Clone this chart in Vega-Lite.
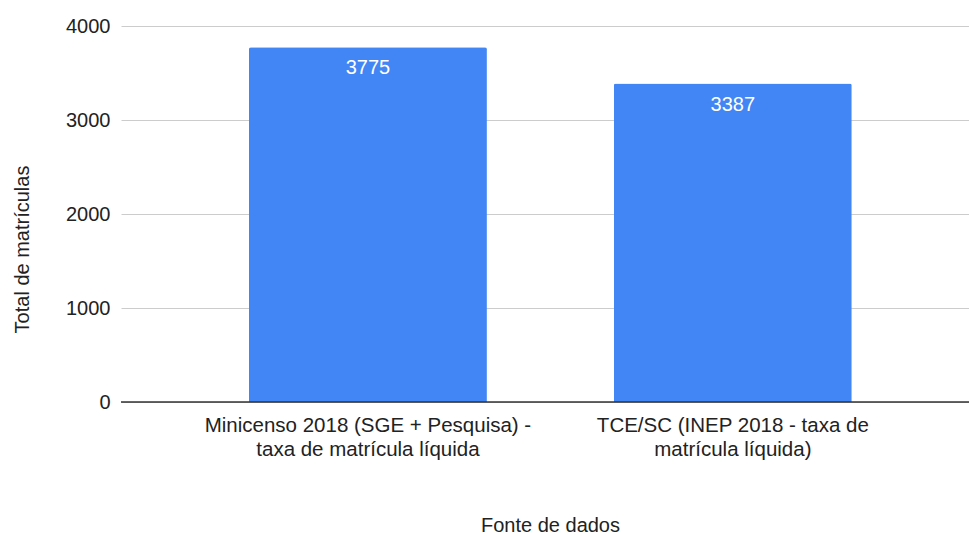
{
  "$schema": "https://vega.github.io/schema/vega-lite/v6.json",
  "autosize": "none",
  "width": 848,
  "height": 376,
  "padding": {"left": 121, "top": 26, "right": 0, "bottom": 134},
  "background": "#ffffff",
  "config": {
    "view": {"stroke": null},
    "font": "Liberation Sans"
  },
  "data": {
    "values": [
      {"fonte": "Minicenso 2018 (SGE + Pesquisa) - taxa de matrícula líquida", "total": 3775},
      {"fonte": "TCE/SC (INEP 2018 - taxa de matrícula líquida)", "total": 3387}
    ]
  },
  "encoding": {
    "x": {
      "field": "fonte",
      "type": "nominal",
      "sort": null,
      "title": "Fonte de dados",
      "scale": {"paddingInner": 0.348, "paddingOuter": 0.336, "align": 0.522},
      "axis": {
        "labelAngle": 0,
        "labelFont": "Liberation Sans",
        "labelFontSize": 20.5,
        "labelColor": "#222222",
        "labelLineHeight": 24,
        "labelPadding": 13,
        "labelLimit": 400,
        "labelExpr": "datum.value == 'Minicenso 2018 (SGE + Pesquisa) - taxa de matrícula líquida' ? ['Minicenso 2018 (SGE + Pesquisa) -', 'taxa de matrícula líquida'] : ['TCE/SC (INEP 2018 - taxa de', 'matrícula líquida)']",
        "ticks": false,
        "domain": false,
        "titleFont": "Liberation Sans",
        "titleFontSize": 20,
        "titleFontWeight": "normal",
        "titleColor": "#222222",
        "titlePadding": 56,
        "titleX": 429
      }
    },
    "y": {
      "field": "total",
      "type": "quantitative",
      "title": "Total de matrículas",
      "scale": {"domain": [0, 4000]},
      "axis": {
        "values": [0, 1000, 2000, 3000, 4000],
        "format": "d",
        "labelFont": "Liberation Sans",
        "labelFontSize": 20,
        "labelColor": "#222222",
        "labelPadding": 11,
        "ticks": false,
        "tickSize": 0,
        "domain": false,
        "gridColor": "#cccccc",
        "gridWidth": 1,
        "titleFont": "Liberation Sans",
        "titleFontSize": 20,
        "titleFontWeight": "normal",
        "titleColor": "#222222",
        "titlePadding": 33,
        "titleY": 223
      }
    }
  },
  "layer": [
    {
      "mark": {"type": "bar", "color": "#4285F4", "cornerRadiusTopLeft": 2, "cornerRadiusTopRight": 2}
    },
    {
      "mark": {"type": "rule", "color": "#333333", "strokeWidth": 1},
      "encoding": {"y": {"datum": 0}, "x": null}
    },
    {
      "mark": {"type": "text", "color": "#ffffff", "baseline": "top", "dy": 11, "fontSize": 20, "font": "Liberation Sans"},
      "encoding": {"text": {"field": "total", "type": "quantitative", "format": "d"}}
    }
  ]
}
